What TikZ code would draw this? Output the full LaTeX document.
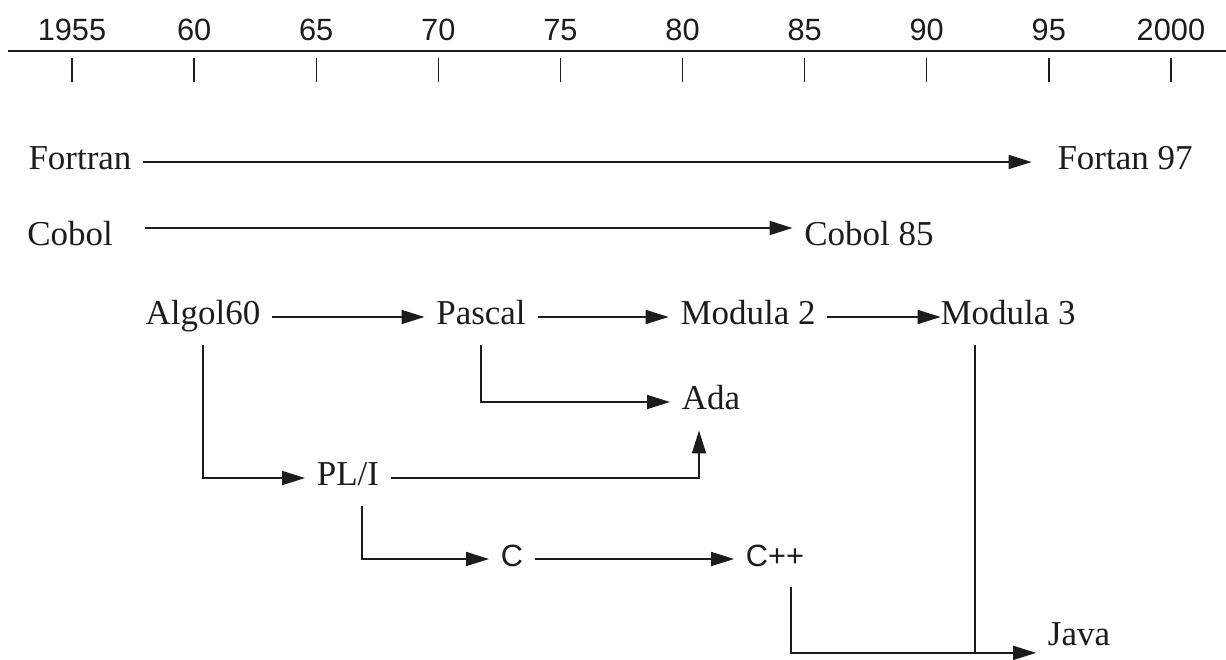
\documentclass[tikz,border=0pt]{standalone}
\usepackage{fontspec}
\setmainfont{Liberation Serif}
\setsansfont{Liberation Sans}
\usepackage{xcolor}
\usepackage{tikz}
\usetikzlibrary{arrows.meta,positioning}
\definecolor{inkgray}{HTML}{1C1C1C}

\begin{document}
\begin{tikzpicture}[
  x=0.02cm, y=-0.02cm,
  lang/.style={
    font=\fontsize{19.9}{24}\selectfont,
    text=inkgray,
    text height=0.49cm,
    text depth=0.175cm,
    inner sep=0.23cm
  },
  sanslang/.style={
    lang,
    font=\fontsize{17.5}{21}\sffamily\selectfont
  },
  year/.style={
    font=\fontsize{17.5}{21}\sffamily\selectfont,
    text=inkgray,
    anchor=base,
    inner sep=0pt
  },
  axis/.style={line width=1pt, draw=inkgray},
  tick/.style={line width=0.8pt, draw=inkgray},
  link/.style={line width=1pt, draw=inkgray},
  arrow/.style={-{Triangle[length=0.46cm,width=0.28cm]}, line width=1pt, draw=inkgray}
]
\useasboundingbox (0,0) rectangle (1226,659);

\draw[axis] (8,51) -- (1226,51);
\foreach \yr [count=\k from 0] in {1955,60,65,70,75,80,85,90,95,2000} {
  \node[year] (yr\k) at (72+122.1*\k,40) {\yr};
  \draw[tick] (72+122.1*\k,58) -- (72+122.1*\k,82);
}

\node[lang] (fortran) at (80,162) {Fortran};
\node[lang] (fortran97) at (1125,162) {Fortan 97};
\node[lang] (cobol) at (70,238) {Cobol};
\node[lang] (cobol85) at (869,238) {Cobol 85};

\node[lang] (algol) at (203,317) {Algol60};
\node[lang] (pascal) at (481,317) {Pascal};
\node[lang] (modula2) at (748,317) {Modula 2};
\node[lang] (modula3) at (1008,317) {Modula 3};
\node[lang] (ada) at (711,402) {Ada};
\node[lang] (pli) at (348,478) {PL/I};
\node[sanslang] (c) at (512,559) {C};
\node[sanslang] (cpp) at (775,559) {C++};
\node[lang] (java) at (1079,638) {Java};
\coordinate (javain) at ([yshift=-0.14cm]java.base west);

\draw[arrow, shorten >=0.28cm] (fortran) -- (fortran97);
\draw[arrow, shorten <=0.4cm] ([yshift=0.2cm]cobol.east) -- ([yshift=0.2cm]cobol85.west);
\draw[arrow] (algol) -- (pascal);
\draw[arrow] (pascal) -- (modula2);
\draw[arrow, shorten >=-0.24cm] (modula2) -- (modula3);
\draw[arrow] (pascal) |- (ada);
\draw[arrow] (algol) |- (pli);
\draw[arrow] (pli) -| ([xshift=-0.24cm]ada.south);
\draw[arrow] ([xshift=0.28cm]pli.south) |- (c);
\draw[arrow] (c) -- (cpp);
\draw[arrow] ([xshift=0.32cm]cpp.south) |- (javain);
\draw[link] ([xshift=-0.66cm]modula3.south) -- ([xshift=-0.66cm]modula3.south |- javain);

\end{tikzpicture}
\end{document}
